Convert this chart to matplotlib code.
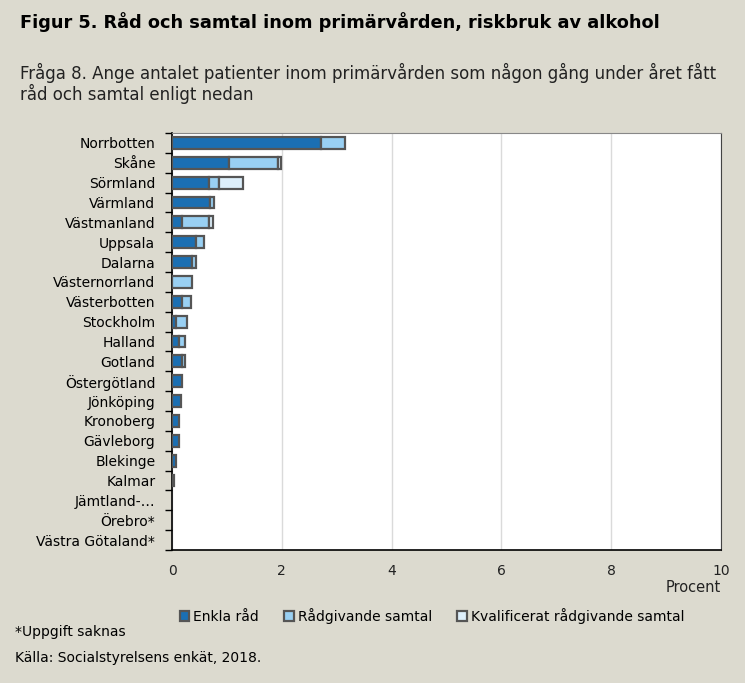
import matplotlib.pyplot as plt
import numpy as np

regions = ["Norrbotten", "Skåne", "Sörmland", "Värmland", "Västmanland", "Uppsala",
           "Dalarna", "Västernorrland", "Västerbotten", "Stockholm", "Halland", "Gotland",
           "Östergötland", "Jönköping", "Kronoberg", "Gävleborg", "Blekinge", "Kalmar",
           "Jämtland-…", "Örebro*", "Västra Götaland*"]
enkla = [2.72, 1.04, 0.67, 0.69, 0.18, 0.43, 0.36, 0.0, 0.19, 0.07, 0.13, 0.18,
         0.19, 0.17, 0.12, 0.12, 0.08, 0.04, 0.0, 0.0, 0.0]
radgivande = [0.43, 0.89, 0.19, 0.08, 0.50, 0.16, 0.08, 0.37, 0.15, 0.21, 0.10, 0.06,
              0.0, 0.0, 0.0, 0.0, 0.0, 0.0, 0.0, 0.0, 0.0]
kvalificerat = [0.0, 0.05, 0.43, 0.0, 0.06, 0.0, 0.0, 0.0, 0.0, 0.0, 0.0, 0.0,
                0.0, 0.0, 0.0, 0.0, 0.0, 0.0, 0.0, 0.0, 0.0]
series_names = ["Enkla råd", "Rådgivande samtal", "Kvalificerat rådgivande samtal"]

bg = "#DCDACF"
colors = ["#1B6FB3", "#99D0F3", "#DDEFFB"]
edge = "#555555"

plt.rcParams['font.family'] = ['DejaVu Sans']

fig = plt.figure(figsize=(7.45, 6.83), dpi=100, facecolor=bg)
ax = fig.add_axes([0.2309, 0.1947, 0.7369, 0.6106])

y = np.arange(len(regions))
left = np.zeros(len(regions))
for vals, c, name in zip([enkla, radgivande, kvalificerat], colors, series_names):
    vals = np.array(vals)
    nz = vals > 0
    ax.barh(y[nz], vals[nz], left=left[nz], height=0.6, color=c, edgecolor=edge,
            linewidth=1.6, label=name, zorder=3)
    left += vals

ax.set_ylim(len(regions) - 0.5, -0.5)
ax.set_xlim(0, 10)
ax.set_xticks([0, 2, 4, 6, 8, 10])
ax.set_yticks(y)
ax.set_yticklabels(regions, fontsize=10)
ax.set_yticks(np.arange(-0.5, len(regions), 1), minor=True)
ax.tick_params(axis='y', which='major', length=0, pad=12)
ax.tick_params(axis='y', which='minor', length=5, width=1, color='black')
ax.tick_params(axis='x', length=0, labelsize=10, pad=10, colors='#222222')
ax.xaxis.grid(True, color='#DADADA', linewidth=1, zorder=0)
for s in ['left', 'bottom']:
    ax.spines[s].set_color('black')
    ax.spines[s].set_linewidth(1.2)
ax.spines['top'].set_color('#888888')
ax.spines['right'].set_color('#444444')
ax.set_facecolor('white')

ax.text(1.0, -0.09, "Procent", transform=ax.transAxes, ha='right', va='center',
        fontsize=10.5, color='#222222')

fig.text(0.027, 0.968, "Figur 5. Råd och samtal inom primärvården, riskbruk av alkohol",
         fontsize=12.8, fontweight='bold', ha='left', va='center')
fig.text(0.027, 0.893, "Fråga 8. Ange antalet patienter inom primärvården som någon gång under året fått",
         fontsize=12, ha='left', va='center', color='#222222')
fig.text(0.027, 0.862, "råd och samtal enligt nedan",
         fontsize=12, ha='left', va='center', color='#222222')

fig.legend(loc='center', bbox_to_anchor=(0.58, 0.098), ncol=3, frameon=False,
           fontsize=10, handlelength=0.7, handleheight=0.7, handletextpad=0.3,
           columnspacing=1.8)

fig.text(0.02, 0.075, "*Uppgift saknas", fontsize=10, ha='left', va='center')
fig.text(0.02, 0.036, "Källa: Socialstyrelsens enkät, 2018.", fontsize=10, ha='left', va='center')

fig.savefig("out.png", dpi=100, facecolor=bg)
